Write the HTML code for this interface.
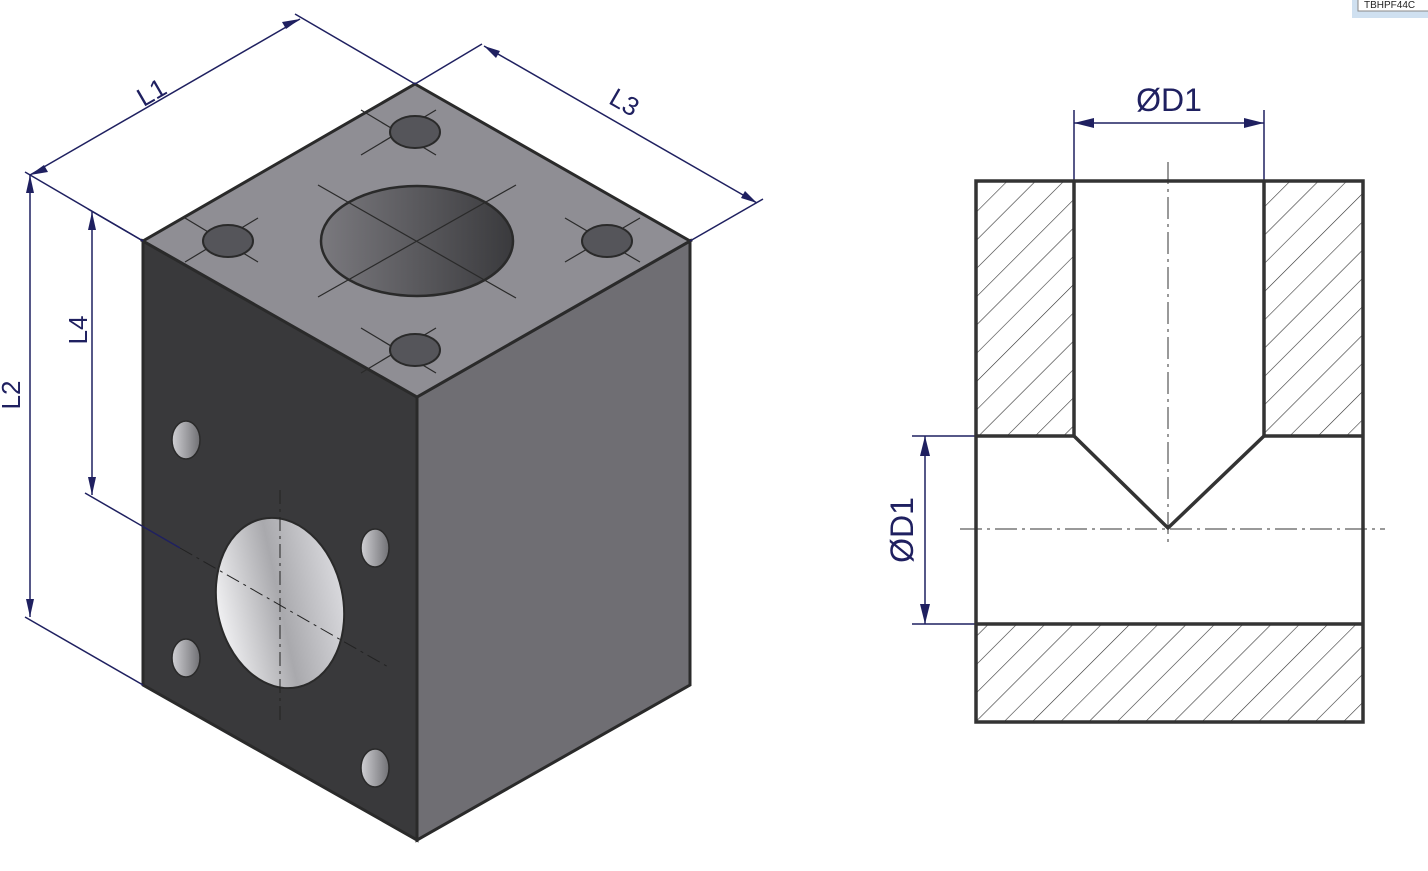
<!DOCTYPE html>
<html><head><style>body{margin:0;background:#fff}svg{display:block}</style></head><body>
<svg width="1428" height="871" viewBox="0 0 1428 871" xmlns="http://www.w3.org/2000/svg" font-family="Liberation Sans, sans-serif">
<defs>
<linearGradient id="hole" x1="0" x2="1"><stop offset="0" stop-color="#7a797e"/><stop offset="1" stop-color="#3a3a3d"/></linearGradient>
<linearGradient id="fh" x1="0" x2="1"><stop offset="0" stop-color="#f0f0f2"/><stop offset="0.5" stop-color="#a9a9ad"/><stop offset="1" stop-color="#d8d8dc"/></linearGradient>
<linearGradient id="sh" x1="0" x2="1"><stop offset="0" stop-color="#d0d0d4"/><stop offset="1" stop-color="#707074"/></linearGradient>
<pattern id="hatch" width="20" height="20" patternUnits="userSpaceOnUse" patternTransform="rotate(45)">
<line x1="0" y1="0" x2="0" y2="20" stroke="#333" stroke-width="1.2"/></pattern>
</defs>
<!-- small window -->
<rect x="1352" y="-4" width="80" height="22" fill="#cfe0f0"/>
<rect x="1358" y="-4" width="74" height="15" fill="#fff" stroke="#888"/>
<text x="1364" y="8" font-size="10" fill="#222">TBHPF44C</text>
<!-- block -->
<polygon points="143,241 417,397 417,840 143,685" fill="#39393b" stroke="#2a2a2a" stroke-width="3"/>
<polygon points="417,397 690,241 690,685 417,840" fill="#6f6e73" stroke="#2a2a2a" stroke-width="3"/>
<polygon points="415,84 690,241 417,397 143,241" fill="#8f8e94" stroke="#2a2a2a" stroke-width="3"/>
<ellipse cx="417" cy="241" rx="96" ry="55" fill="url(#hole)" stroke="#2a2a2a" stroke-width="2.5"/>
<g stroke="#2a2a2a" stroke-width="1.2">
<line x1="318" y1="185" x2="516" y2="298"/><line x1="318" y1="297" x2="516" y2="185"/>
<line x1="361" y1="110" x2="436" y2="155"/><line x1="361" y1="155" x2="436" y2="110"/>
<line x1="361" y1="328" x2="436" y2="373"/><line x1="361" y1="373" x2="436" y2="328"/>
<line x1="185" y1="218" x2="258" y2="262"/><line x1="185" y1="262" x2="258" y2="218"/>
<line x1="565" y1="218" x2="640" y2="262"/><line x1="565" y1="262" x2="640" y2="218"/>
</g>
<g fill="#55555a" stroke="#2a2a2a" stroke-width="2">
<ellipse cx="415" cy="132" rx="25" ry="16"/><ellipse cx="415" cy="350" rx="25" ry="16"/>
<ellipse cx="228" cy="241" rx="25" ry="16"/><ellipse cx="607" cy="241" rx="25" ry="16"/>
</g>
<!-- front face holes -->
<ellipse cx="280" cy="603" rx="63" ry="86" transform="rotate(-12 280 603)" fill="url(#fh)" stroke="#2a2a2a" stroke-width="2"/>
<g fill="url(#sh)" stroke="#2a2a2a" stroke-width="1.5">
<ellipse cx="186" cy="440" rx="14" ry="19"/><ellipse cx="375" cy="548" rx="14" ry="19"/>
<ellipse cx="186" cy="658" rx="14" ry="19"/><ellipse cx="375" cy="768" rx="14" ry="19"/>
</g>
<g stroke="#222" stroke-width="1" stroke-dasharray="14,5,3,5">
<line x1="180" y1="548" x2="390" y2="668"/><line x1="280" y1="490" x2="280" y2="720"/>
</g>
<!-- dimensions -->
<g stroke="#1f2060" stroke-width="1.5" fill="none">
<line x1="143" y1="241" x2="25" y2="172"/><line x1="415" y1="84" x2="295" y2="14"/>
<line x1="30" y1="175" x2="300" y2="19"/>
<line x1="415" y1="84" x2="482" y2="44"/><line x1="690" y1="241" x2="763" y2="199"/>
<line x1="484" y1="46" x2="757" y2="203"/>
<line x1="143" y1="685" x2="25" y2="617"/>
<line x1="30" y1="175" x2="30" y2="617"/>
<line x1="143" y1="241" x2="88" y2="209"/><line x1="85" y1="493" x2="180" y2="548"/>
<line x1="92" y1="212" x2="92" y2="495"/>
<line x1="1074" y1="181" x2="1074" y2="110"/><line x1="1264" y1="181" x2="1264" y2="110"/>
<line x1="1074" y1="123" x2="1264" y2="123"/>
<line x1="912" y1="436" x2="976" y2="436"/><line x1="912" y1="624" x2="976" y2="624"/>
<line x1="925" y1="436" x2="925" y2="624"/>
</g>
<g fill="#1f2060">
<polygon points="30,175 48,172 44,165"/><polygon points="300,19 282,22 286,29"/>
<polygon points="484,46 496,58 500,51"/><polygon points="757,203 745,191 741,198"/>
<polygon points="30,175 26,193 34,193"/><polygon points="30,617 26,599 34,599"/>
<polygon points="92,212 88,230 96,230"/><polygon points="92,495 88,477 96,477"/>
<polygon points="1074,123 1094,118 1094,128"/><polygon points="1264,123 1244,118 1244,128"/>
<polygon points="925,436 920,456 930,456"/><polygon points="925,624 920,604 930,604"/>
</g>
<g fill="#1f2060" font-size="26">
<text transform="translate(156,100) rotate(-30)" text-anchor="middle">L1</text>
<text transform="translate(620,110) rotate(30)" text-anchor="middle">L3</text>
<text transform="translate(20,395) rotate(-90)" text-anchor="middle">L2</text>
<text transform="translate(87,330) rotate(-90)" text-anchor="middle">L4</text>
<text x="1169" y="111" text-anchor="middle" font-size="32">ØD1</text>
<text transform="translate(913,530) rotate(-90)" text-anchor="middle" font-size="32">ØD1</text>
</g>
<!-- section view -->
<rect x="976" y="181" width="98" height="255" fill="url(#hatch)"/>
<rect x="1264" y="181" width="99" height="255" fill="url(#hatch)"/>
<rect x="976" y="624" width="387" height="98" fill="url(#hatch)"/>
<g stroke="#333" stroke-width="3.5" fill="none">
<rect x="976" y="181" width="387" height="541"/>
<line x1="1074" y1="181" x2="1074" y2="436"/><line x1="1264" y1="181" x2="1264" y2="436"/>
<line x1="976" y1="436" x2="1074" y2="436"/><line x1="1264" y1="436" x2="1363" y2="436"/>
<polyline points="1074,436 1168,528 1264,436"/>
<line x1="976" y1="624" x2="1363" y2="624"/>
</g>
<g stroke="#333" stroke-width="1" stroke-dasharray="22,5,3,5">
<line x1="1168" y1="162" x2="1168" y2="545"/><line x1="960" y1="529" x2="1385" y2="529"/>
</g>
</svg>
</body></html>
